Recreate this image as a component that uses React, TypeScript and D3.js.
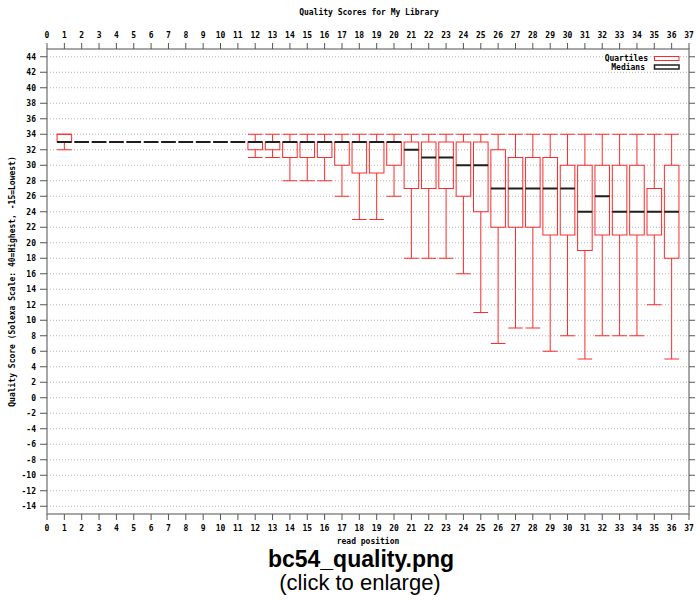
import React from "react";
import * as d3 from "d3";

const positions = Array.from({ length: 36 }, (_, i) => i + 1);
const maxs = [34, 33, 33, 33, 33, 33, 33, 33, 33, 33, 33, 34, 34, 34, 34, 34, 34, 34, 34, 34, 34, 34, 34, 34, 34, 34, 34, 34, 34, 34, 34, 34, 34, 34, 34, 34];
const q3s = [34, 33, 33, 33, 33, 33, 33, 33, 33, 33, 33, 33, 33, 33, 33, 33, 33, 33, 33, 33, 33, 33, 33, 33, 33, 32, 31, 31, 31, 30, 30, 30, 30, 30, 27, 30];
const medians = [33, 33, 33, 33, 33, 33, 33, 33, 33, 33, 33, 33, 33, 33, 33, 33, 33, 33, 33, 33, 32, 31, 31, 30, 30, 27, 27, 27, 27, 27, 24, 26, 24, 24, 24, 24];
const q1s = [33, 33, 33, 33, 33, 33, 33, 33, 33, 33, 33, 32, 32, 31, 31, 31, 30, 29, 29, 30, 27, 27, 27, 26, 24, 22, 22, 22, 21, 21, 19, 21, 21, 21, 21, 18];
const mins = [32, 33, 33, 33, 33, 33, 33, 33, 33, 33, 33, 31, 31, 28, 28, 28, 26, 23, 23, 26, 18, 18, 18, 16, 11, 7, 9, 9, 6, 8, 5, 8, 8, 8, 12, 5];

const xTicks = d3.range(0, 38);
const yTicks = d3.range(-14, 45, 2);

const title = "Quality Scores for My Library";
const xLabel = "read position";
const yLabel = "Quality Score (Solexa Scale: 40=Highest, -15=Lowest)";
const caption1 = "bc54_quality.png";
const caption2 = "(click to enlarge)";

const W = 696;
const H = 600;
const left = 47;
const right = 689;
const top = 49;
const bottom = 514;

const mono = "'DejaVu Sans Mono', monospace";
const RED = "#ff2a2a";
const AXIS = "#8a8a8a";

export default function App() {
  const x = d3.scaleLinear().domain([0, 37]).range([left, right]);
  const y = d3.scaleLinear().domain([-15, 45]).range([bottom, top]);
  const bw = (x(1) - x(0)) * 0.84;

  return (
    <svg
      width={W}
      height={H}
      style={{ position: "absolute", left: 0, top: 0, background: "#fff" }}
    >
      <text x={(left + right) / 2 + 1} y={15} textAnchor="middle" fontFamily={mono} fontWeight="bold" fontSize={8}>
        {title}
      </text>

      {/* grid */}
      {yTicks.map((t) => (
        <line key={"g" + t} x1={left} x2={right} y1={y(t)} y2={y(t)} stroke="#b4b4b4" strokeWidth={1} strokeDasharray="1,2" />
      ))}

      {/* frame */}
      <rect x={left} y={top} width={right - left} height={bottom - top} fill="none" stroke={AXIS} strokeWidth={1.5} />

      {/* x ticks top and bottom */}
      {xTicks.map((t) => (
        <g key={"x" + t}>
          <line x1={x(t)} x2={x(t)} y1={top} y2={top - 6} stroke="#555" strokeWidth={1} />
          <line x1={x(t)} x2={x(t)} y1={bottom} y2={bottom + 6} stroke="#555" strokeWidth={1} />
          <text x={x(t)} y={38} textAnchor="middle" fontFamily={mono} fontWeight="bold" fontSize={8}>
            {t}
          </text>
          <text x={x(t)} y={531} textAnchor="middle" fontFamily={mono} fontWeight="bold" fontSize={8}>
            {t}
          </text>
        </g>
      ))}

      {/* y ticks */}
      {yTicks.map((t) => (
        <g key={"y" + t}>
          <line x1={left - 7} x2={left} y1={y(t)} y2={y(t)} stroke="#555" strokeWidth={1} />
          <line x1={right} x2={right + 6} y1={y(t)} y2={y(t)} stroke="#555" strokeWidth={1} />
          <text x={36} y={y(t) + 3} textAnchor="end" fontFamily={mono} fontWeight="bold" fontSize={8}>
            {t}
          </text>
        </g>
      ))}

      {/* boxes */}
      {positions.map((p, i) => {
        const cx = x(p);
        const x0 = cx - bw / 2;
        const x1 = cx + bw / 2;
        return (
          <g key={"b" + p}>
            <line x1={cx} x2={cx} y1={y(maxs[i])} y2={y(q3s[i])} stroke={RED} strokeWidth={1} />
            <line x1={cx} x2={cx} y1={y(q1s[i])} y2={y(mins[i])} stroke={RED} strokeWidth={1} />
            <line x1={x0} x2={x1} y1={y(maxs[i])} y2={y(maxs[i])} stroke={RED} strokeWidth={1} />
            <line x1={x0} x2={x1} y1={y(mins[i])} y2={y(mins[i])} stroke={RED} strokeWidth={1} />
            <rect x={x0} y={y(q3s[i])} width={bw} height={y(q1s[i]) - y(q3s[i])} fill="none" stroke={RED} strokeWidth={1} />
          </g>
        );
      })}
      {positions.map((p, i) => (
        <line key={"m" + p} x1={x(p) - bw / 2} x2={x(p) + bw / 2} y1={y(medians[i])} y2={y(medians[i])} stroke="#1e1e1e" strokeWidth={2} />
      ))}

      {/* legend */}
      <text x={648} y={61} textAnchor="end" fontFamily={mono} fontWeight="bold" fontSize={8}>
        Quartiles
      </text>
      <rect x={654.5} y={56.5} width={24.5} height={4} fill="none" stroke={RED} strokeWidth={1} />
      <text x={645} y={70} textAnchor="end" fontFamily={mono} fontWeight="bold" fontSize={8}>
        Medians
      </text>
      <rect x={654.5} y={65} width={24.5} height={4} fill="none" stroke="#1e1e1e" strokeWidth={1.5} />

      {/* axis labels */}
      <text x={(left + right) / 2} y={544} textAnchor="middle" fontFamily={mono} fontWeight="bold" fontSize={8}>
        {xLabel}
      </text>
      <text
        transform={`translate(15,${(top + bottom) / 2}) rotate(-90)`}
        textAnchor="middle"
        fontFamily={mono}
        fontWeight="bold"
        fontSize={8}
      >
        {yLabel}
      </text>

      {/* caption */}
      <text x={361} y={567} textAnchor="middle" fontFamily="'Liberation Sans', Arial, sans-serif" fontWeight="bold" fontSize={23}>
        {caption1}
      </text>
      <text x={360} y={590} textAnchor="middle" fontFamily="'Liberation Sans', Arial, sans-serif" fontSize={22}>
        {caption2}
      </text>
    </svg>
  );
}
